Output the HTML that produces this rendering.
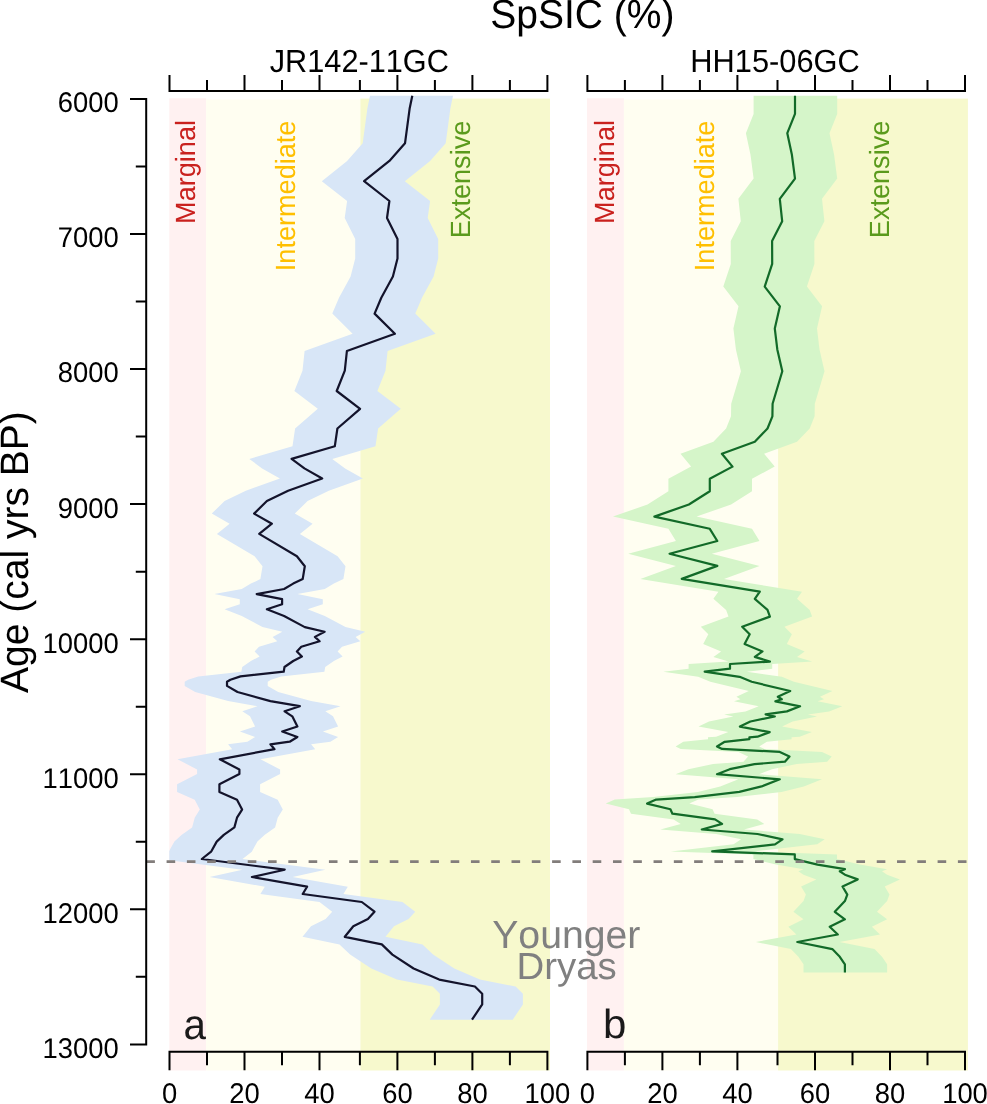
<!DOCTYPE html>
<html lang="en"><head><meta charset="utf-8"><title>SpSIC (%)</title>
<style>
html,body{margin:0;padding:0;background:#fff;}
body{width:987px;height:1104px;overflow:hidden;}
svg{display:block;}
text{font-family:'Liberation Sans', Arial, Helvetica, sans-serif;font-kerning:none;text-rendering:geometricPrecision;}
.ax{stroke:#000;stroke-width:2;fill:none;stroke-linecap:butt;}
.tl{font-size:27.8px;fill:#000;}
.zl{font-size:27.1px;}
.bl{font-size:27.4px;fill:#000;}
</style></head><body>
<svg width="987" height="1104" viewBox="0 0 987 1104">
<defs>
<clipPath id="ca"><rect x="169.3" y="90" width="380.7" height="981"/></clipPath>
<clipPath id="cb"><rect x="587" y="90" width="380.9" height="981"/></clipPath>
</defs>
<rect width="987" height="1104" fill="#fff"/>

<rect x="169.3" y="98.3" width="36.8" height="972.2" fill="#fff1f1"/>
<rect x="206.1" y="99.5" width="154.3" height="971" fill="#fffef1"/>
<rect x="360.4" y="98.6" width="189.6" height="971.9" fill="#f7f9cd"/>
<rect x="587.0" y="98.3" width="36.9" height="972.2" fill="#fff1f1"/>
<rect x="623.9" y="99.5" width="154.2" height="971" fill="#fffef1"/>
<rect x="778.1" y="98.6" width="189.8" height="971.9" fill="#f7f9cd"/>
<g clip-path="url(#ca)"><polygon points="370.0,95.7 367.4,108.2 362.7,143.3 347.1,160.9 321.8,181.2 347.1,201.0 344.7,218.0 355.2,239.0 355.2,258.6 350.6,276.5 339.0,297.8 332.3,313.6 352.6,333.8 304.6,351.0 302.5,370.7 294.4,391.0 317.8,408.8 295.1,428.5 292.5,446.3 249.3,458.9 262.1,468.4 279.9,478.5 245.8,490.7 224.6,501.0 211.8,513.6 229.6,523.7 216.9,533.9 254.6,556.2 262.5,566.3 260.4,579.1 250.9,583.6 241.8,589.0 214.4,594.1 239.8,599.2 239.8,604.2 224.6,609.3 241.8,616.0 262.5,627.1 282.3,631.8 272.6,636.9 277.3,641.3 259.0,646.8 254.6,651.4 259.6,656.5 250.9,661.0 242.2,667.0 241.4,671.7 198.2,676.4 188.1,679.8 184.7,681.8 184.7,685.9 195.2,692.0 228.1,701.1 257.5,706.2 242.3,711.3 250.0,716.3 255.1,726.5 239.9,731.5 255.1,737.0 247.4,741.7 228.1,744.3 232.2,749.2 177.5,759.3 197.1,769.4 197.1,774.1 177.1,784.2 177.1,791.9 194.7,799.8 199.8,809.6 194.7,817.7 192.1,827.4 181.5,834.9 174.4,841.6 168.8,851.7 159.5,859.0 242.4,869.7 209.6,877.0 264.8,886.7 260.4,894.0 319.5,902.0 332.2,911.7 325.6,919.0 311.0,926.3 302.5,936.8 339.5,944.4 350.1,954.6 371.3,968.5 396.9,979.6 432.6,986.5 439.9,993.7 439.9,1004.4 429.7,1019.7 512.7,1019.7 522.9,1004.4 522.9,993.7 515.6,986.5 479.9,979.6 454.3,968.5 433.1,954.6 422.5,944.4 385.5,936.8 394.0,926.3 408.6,919.0 415.2,911.7 402.5,902.0 343.4,894.0 347.8,886.7 292.6,877.0 325.4,869.7 242.5,859.0 251.8,851.7 257.4,841.6 264.5,834.9 275.1,827.4 277.7,817.7 282.8,809.6 277.7,799.8 260.1,791.9 260.1,784.2 280.1,774.1 280.1,769.4 260.5,759.3 315.2,749.2 311.1,744.3 330.4,741.7 338.1,737.0 322.9,731.5 338.1,726.5 333.0,716.3 325.3,711.3 340.5,706.2 311.1,701.1 278.2,692.0 267.7,685.9 267.7,681.8 271.1,679.8 281.2,676.4 324.4,671.7 325.2,667.0 333.9,661.0 342.6,656.5 337.6,651.4 342.0,646.8 360.3,641.3 355.6,636.9 365.3,631.8 345.5,627.1 324.8,616.0 307.6,609.3 322.8,604.2 322.8,599.2 297.4,594.1 324.8,589.0 333.9,583.6 343.4,579.1 345.5,566.3 337.6,556.2 299.9,533.9 312.6,523.7 294.8,513.6 307.6,501.0 328.8,490.7 362.9,478.5 345.1,468.4 332.3,458.9 375.5,446.3 378.1,428.5 400.8,408.8 377.4,391.0 385.5,370.7 387.6,351.0 435.6,333.8 415.3,313.6 422.0,297.8 433.6,276.5 438.2,258.6 438.2,239.0 427.7,218.0 430.1,201.0 404.8,181.2 430.1,160.9 445.7,143.3 450.4,108.2 453.0,95.7" fill="#d8e6f7"/></g>
<g clip-path="url(#cb)"><polygon points="753.6,95.7 753.6,113.9 745.9,133.2 750.5,154.8 753.6,178.6 738.4,198.8 740.8,221.3 730.7,241.0 730.8,263.9 723.3,286.6 738.5,306.3 733.4,328.6 735.9,349.4 740.9,371.3 731.2,403.8 731.0,416.3 726.1,428.5 713.4,441.7 680.5,453.8 691.1,466.6 668.4,478.8 668.4,491.3 647.5,504.5 613.0,516.6 668.4,528.8 675.9,541.0 628.2,553.8 675.9,565.9 640.4,578.9 718.4,591.7 713.4,598.8 726.1,609.9 728.5,616.6 700.8,626.7 708.3,634.2 703.2,644.0 721.1,651.4 713.4,656.9 728.5,661.6 688.6,664.0 688.6,668.7 663.3,671.7 698.2,676.8 710.3,681.8 748.8,691.0 736.4,696.8 740.4,699.3 734.0,701.3 758.7,706.3 745.5,711.4 724.2,714.4 733.4,716.5 709.0,721.5 698.5,726.6 728.3,732.1 716.1,736.7 708.0,737.3 708.0,739.2 683.3,741.8 675.6,746.5 680.7,748.9 738.4,751.9 748.1,756.6 743.5,761.7 713.1,764.1 688.4,769.2 675.6,774.2 738.4,779.3 720.2,786.4 697.9,791.9 653.3,797.1 614.8,799.6 605.7,803.6 629.0,809.3 631.0,813.7 673.6,819.4 680.7,823.9 660.4,829.5 716.1,834.0 741.1,839.3 733.6,844.3 670.8,851.4 753.4,854.4 753.4,859.1 776.1,864.6 803.5,869.2 798.4,871.3 803.5,874.7 816.3,879.4 801.1,886.5 805.9,894.6 803.5,901.1 793.4,911.8 803.5,919.3 788.3,926.8 796.4,934.5 755.9,942.0 790.9,949.1 798.4,956.8 803.5,964.3 803.5,972.4 887.1,972.4 887.1,964.3 882.0,956.8 874.5,949.1 839.5,942.0 880.0,934.5 871.9,926.8 887.1,919.3 877.0,911.8 887.1,901.1 889.5,894.6 884.7,886.5 899.9,879.4 887.1,874.7 882.0,871.3 887.1,869.2 859.7,864.6 837.0,859.1 837.0,854.4 754.4,851.4 817.2,844.3 824.7,839.3 799.7,834.0 744.0,829.5 764.3,823.9 757.2,819.4 714.6,813.7 712.6,809.3 689.3,803.6 698.4,799.6 736.9,797.1 781.5,791.9 803.8,786.4 822.0,779.3 759.2,774.2 772.0,769.2 796.7,764.1 827.1,761.7 831.7,756.6 822.0,751.9 764.3,748.9 759.2,746.5 766.9,741.8 791.6,739.2 791.6,737.3 799.7,736.7 811.9,732.1 782.1,726.6 792.6,721.5 817.0,716.5 807.8,714.4 829.1,711.4 842.3,706.3 817.6,701.3 824.0,699.3 820.0,696.8 832.4,691.0 793.9,681.8 781.8,676.8 746.9,671.7 772.2,668.7 772.2,664.0 812.1,661.6 797.0,656.9 804.7,651.4 786.8,644.0 791.9,634.2 784.4,626.7 812.1,616.6 809.7,609.9 797.0,598.8 802.0,591.7 724.0,578.9 759.5,565.9 711.8,553.8 759.5,541.0 752.0,528.8 696.6,516.6 731.1,504.5 752.0,491.3 752.0,478.8 774.7,466.6 764.1,453.8 797.0,441.7 809.7,428.5 814.6,416.3 814.8,403.8 824.5,371.3 819.5,349.4 817.0,328.6 822.1,306.3 806.9,286.6 814.4,263.9 814.3,241.0 824.4,221.3 822.0,198.8 837.2,178.6 834.1,154.8 829.5,133.2 837.2,113.9 837.2,95.7" fill="#d5f5c9"/></g>
<polyline points="412.3,95.7 409.7,108.2 405.0,143.3 389.4,160.9 364.1,181.2 389.4,201.0 387.0,218.0 397.5,239.0 397.5,258.6 392.9,276.5 381.3,297.8 374.6,313.6 394.9,333.8 346.9,351.0 344.8,370.7 336.7,391.0 360.1,408.8 337.4,428.5 334.8,446.3 291.6,458.9 304.4,468.4 322.2,478.5 288.1,490.7 266.9,501.0 254.1,513.6 271.9,523.7 259.2,533.9 296.9,556.2 304.8,566.3 302.7,579.1 293.2,583.6 284.1,589.0 256.7,594.1 282.1,599.2 282.1,604.2 266.9,609.3 284.1,616.0 304.8,627.1 324.6,631.8 314.9,636.9 319.6,641.3 301.3,646.8 296.9,651.4 301.9,656.5 293.2,661.0 284.5,667.0 283.7,671.7 240.5,676.4 230.4,679.8 227.0,681.8 227.0,685.9 237.5,692.0 270.4,701.1 299.8,706.2 284.6,711.3 292.3,716.3 297.4,726.5 282.2,731.5 297.4,737.0 289.7,741.7 270.4,744.3 274.5,749.2 219.8,759.3 239.4,769.4 239.4,774.1 219.4,784.2 219.4,791.9 237.0,799.8 242.1,809.6 237.0,817.7 234.4,827.4 223.8,834.9 216.7,841.6 211.1,851.7 201.8,859.0 284.7,869.7 251.9,877.0 307.1,886.7 302.7,894.0 361.8,902.0 374.5,911.7 367.9,919.0 353.3,926.3 344.8,936.8 381.8,944.4 392.4,954.6 413.6,968.5 439.2,979.6 474.9,986.5 482.2,993.7 482.2,1004.4 472.0,1019.7" fill="none" stroke="#13132b" stroke-width="2.2" stroke-linejoin="round" stroke-linecap="butt"/>
<polyline points="795.0,95.7 795.0,113.9 787.3,133.2 791.9,154.8 795.0,178.6 779.8,198.8 782.2,221.3 772.1,241.0 772.2,263.9 764.7,286.6 779.9,306.3 774.8,328.6 777.3,349.4 782.3,371.3 772.6,403.8 772.4,416.3 767.5,428.5 754.8,441.7 721.9,453.8 732.5,466.6 709.8,478.8 709.8,491.3 688.9,504.5 654.4,516.6 709.8,528.8 717.3,541.0 669.6,553.8 717.3,565.9 681.8,578.9 759.8,591.7 754.8,598.8 767.5,609.9 769.9,616.6 742.2,626.7 749.7,634.2 744.6,644.0 762.5,651.4 754.8,656.9 769.9,661.6 730.0,664.0 730.0,668.7 704.7,671.7 739.6,676.8 751.7,681.8 790.2,691.0 777.8,696.8 781.8,699.3 775.4,701.3 800.1,706.3 786.9,711.4 765.6,714.4 774.8,716.5 750.4,721.5 739.9,726.6 769.7,732.1 757.5,736.7 749.4,737.3 749.4,739.2 724.7,741.8 717.0,746.5 722.1,748.9 779.8,751.9 789.5,756.6 784.9,761.7 754.5,764.1 729.8,769.2 717.0,774.2 779.8,779.3 761.6,786.4 739.3,791.9 694.7,797.1 656.2,799.6 647.1,803.6 670.4,809.3 672.4,813.7 715.0,819.4 722.1,823.9 701.8,829.5 757.5,834.0 782.5,839.3 775.0,844.3 712.2,851.4 794.8,854.4 794.8,859.1 817.5,864.6 844.9,869.2 839.8,871.3 844.9,874.7 857.7,879.4 842.5,886.5 847.3,894.6 844.9,901.1 834.8,911.8 844.9,919.3 829.7,926.8 837.8,934.5 797.3,942.0 832.3,949.1 839.8,956.8 844.9,964.3 844.9,972.4" fill="none" stroke="#126a28" stroke-width="2.2" stroke-linejoin="round" stroke-linecap="butt"/>
<line x1="146.3" y1="861.6" x2="967.5" y2="861.6" stroke="#827d7b" stroke-width="2.8" stroke-dasharray="8.6 11.69"/>
<text transform="translate(195.30,120.00) rotate(-90) scale(1,1.025)" font-size="27.1" text-anchor="end" fill="#c9211e">Marginal</text>
<text transform="translate(295.00,120.60) rotate(-90) scale(1,1.025)" font-size="27.1" text-anchor="end" fill="#ffbf00">Intermediate</text>
<text transform="translate(470.40,120.70) rotate(-90) scale(1,1.025)" font-size="27.1" text-anchor="end" fill="#5a9a1c">Extensive</text>
<text transform="translate(614.10,120.00) rotate(-90) scale(1,1.025)" font-size="27.1" text-anchor="end" fill="#c9211e">Marginal</text>
<text transform="translate(713.80,120.60) rotate(-90) scale(1,1.025)" font-size="27.1" text-anchor="end" fill="#ffbf00">Intermediate</text>
<text transform="translate(889.20,120.70) rotate(-90) scale(1,1.025)" font-size="27.1" text-anchor="end" fill="#5a9a1c">Extensive</text>
<path class="ax" d="M169.5,75 V91 H547.4 V75 M207.00,80 V91 M244.50,75 V91 M282.00,80 V91 M319.50,75 V91 M359.90,80 V91 M397.40,75 V91 M434.90,80 V91 M472.40,75 V91 M509.90,80 V91"/>
<path class="ax" d="M169.5,1070.2 V1051.8 H547.4 V1070.2 M207.00,1065.2 V1051.8 M244.50,1070.2 V1051.8 M282.00,1065.2 V1051.8 M319.50,1070.2 V1051.8 M359.90,1065.2 V1051.8 M397.40,1070.2 V1051.8 M434.90,1065.2 V1051.8 M472.40,1070.2 V1051.8 M509.90,1065.2 V1051.8"/>
<text transform="translate(169.50,1103.30) scale(1,1.04)" font-size="27.4" text-anchor="middle" fill="#000">0</text>
<text transform="translate(244.50,1103.30) scale(1,1.04)" font-size="27.4" text-anchor="middle" fill="#000">20</text>
<text transform="translate(319.50,1103.30) scale(1,1.04)" font-size="27.4" text-anchor="middle" fill="#000">40</text>
<text transform="translate(397.40,1103.30) scale(1,1.04)" font-size="27.4" text-anchor="middle" fill="#000">60</text>
<text transform="translate(472.40,1103.30) scale(1,1.04)" font-size="27.4" text-anchor="middle" fill="#000">80</text>
<text transform="translate(547.40,1103.30) scale(1,1.04)" font-size="27.4" text-anchor="middle" fill="#000">100</text>
<path class="ax" d="M587.4,75 V91 H965.0 V75 M624.90,80 V91 M662.40,75 V91 M699.90,80 V91 M737.40,75 V91 M777.50,80 V91 M815.00,75 V91 M852.50,80 V91 M890.00,75 V91 M927.50,80 V91"/>
<path class="ax" d="M587.4,1070.2 V1051.8 H965.0 V1070.2 M624.90,1065.2 V1051.8 M662.40,1070.2 V1051.8 M699.90,1065.2 V1051.8 M737.40,1070.2 V1051.8 M777.50,1065.2 V1051.8 M815.00,1070.2 V1051.8 M852.50,1065.2 V1051.8 M890.00,1070.2 V1051.8 M927.50,1065.2 V1051.8"/>
<text transform="translate(587.40,1103.30) scale(1,1.04)" font-size="27.4" text-anchor="middle" fill="#000">0</text>
<text transform="translate(662.40,1103.30) scale(1,1.04)" font-size="27.4" text-anchor="middle" fill="#000">20</text>
<text transform="translate(737.40,1103.30) scale(1,1.04)" font-size="27.4" text-anchor="middle" fill="#000">40</text>
<text transform="translate(815.00,1103.30) scale(1,1.04)" font-size="27.4" text-anchor="middle" fill="#000">60</text>
<text transform="translate(890.00,1103.30) scale(1,1.04)" font-size="27.4" text-anchor="middle" fill="#000">80</text>
<text transform="translate(965.00,1103.30) scale(1,1.04)" font-size="27.4" text-anchor="middle" fill="#000">100</text>
<path class="ax" d="M130,98.9 H146.2 V1044.39 H130 M135.8,166.44 H146.2 M130,233.97 H146.2 M135.8,301.50 H146.2 M130,369.04 H146.2 M135.8,436.57 H146.2 M130,504.11 H146.2 M135.8,571.64 H146.2 M130,639.18 H146.2 M135.8,706.71 H146.2 M130,774.25 H146.2 M135.8,841.78 H146.2 M130,909.32 H146.2 M135.8,976.85 H146.2"/>
<text transform="translate(118.70,112.00) scale(1,1.04)" font-size="27.4" text-anchor="end" fill="#000">6000</text>
<text transform="translate(118.70,247.20) scale(1,1.04)" font-size="27.4" text-anchor="end" fill="#000">7000</text>
<text transform="translate(118.70,382.40) scale(1,1.04)" font-size="27.4" text-anchor="end" fill="#000">8000</text>
<text transform="translate(118.70,517.60) scale(1,1.04)" font-size="27.4" text-anchor="end" fill="#000">9000</text>
<text transform="translate(118.70,652.80) scale(1,1.04)" font-size="27.4" text-anchor="end" fill="#000">10000</text>
<text transform="translate(118.70,788.00) scale(1,1.04)" font-size="27.4" text-anchor="end" fill="#000">11000</text>
<text transform="translate(118.70,923.20) scale(1,1.04)" font-size="27.4" text-anchor="end" fill="#000">12000</text>
<text transform="translate(118.70,1058.40) scale(1,1.04)" font-size="27.4" text-anchor="end" fill="#000">13000</text>
<text transform="translate(582.40,27.80) scale(1,1.04)" font-size="39" text-anchor="middle" fill="#000">SpSIC (%)</text>
<text transform="translate(359.30,71.90) scale(1,1.04)" font-size="30.7" text-anchor="middle" fill="#000">JR142-11GC</text>
<text transform="translate(775.00,71.90) scale(1,1.04)" font-size="30.8" text-anchor="middle" fill="#000">HH15-06GC</text>
<text transform="translate(27.70,552.05) rotate(-90) scale(1,1.015)" font-size="39.0" text-anchor="middle" fill="#000">Age (cal yrs BP)</text>
<text transform="translate(566.30,948.20) scale(1,1.0)" font-size="39.2" text-anchor="middle" fill="#808080">Younger</text>
<text transform="translate(566.60,978.90) scale(1,0.98)" font-size="38.4" text-anchor="middle" fill="#808080">Dryas</text>
<text transform="translate(183.40,1038.80) scale(1,1.05)" font-size="40.3" text-anchor="start" fill="#1a1a1a">a</text>
<text transform="translate(603.00,1038.30) scale(1,0.97)" font-size="42" text-anchor="start" fill="#1a1a1a">b</text>
</svg></body></html>
